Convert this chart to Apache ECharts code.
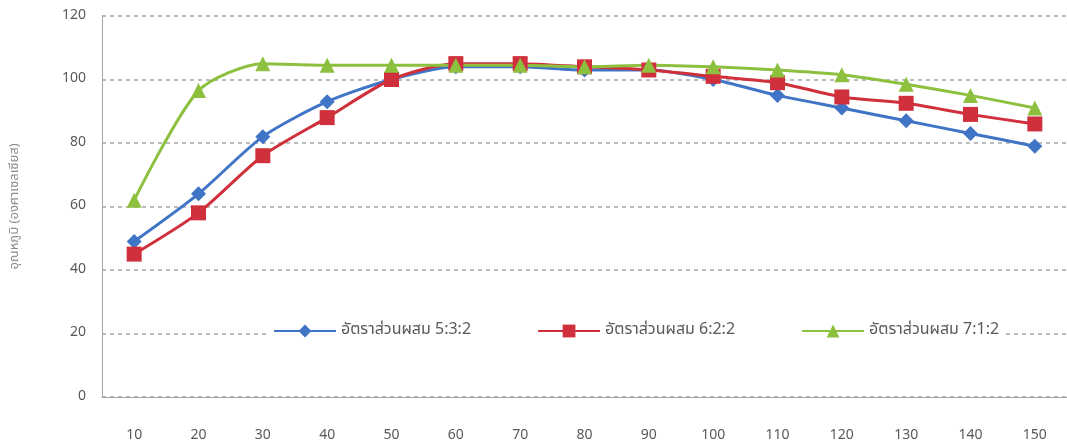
<!DOCTYPE html>
<html>
<head>
<meta charset="utf-8">
<script src="https://cdn.jsdelivr.net/npm/echarts@6/dist/echarts.min.js"></script>
<style>
  html, body { margin: 0; padding: 0; background: #ffffff; }
  #chart { width: 1067px; height: 448px; }
</style>
</head>
<body>
<div id="chart"></div>
<script>
// Mixing-ratio temperature curves
const categories = ['10','20','30','40','50','60','70','80','90','100','110','120','130','140','150'];
const ratio532 = [49, 64, 82, 93, 100, 104, 104, 103, 103, 100, 95, 91, 87, 83, 79];
const ratio622 = [45, 58, 76, 88, 100, 105, 105, 104, 103, 101, 99, 94.5, 92.5, 89, 86];
const ratio712 = [62, 96.5, 105, 104.5, 104.5, 104.5, 104.5, 104, 104.5, 104, 103, 101.5, 98.5, 95, 91];
const seriesNames = ['อัตราส่วนผสม 5:3:2', 'อัตราส่วนผสม 6:2:2', 'อัตราส่วนผสม 7:1:2'];
const yTitle = 'อุณหภูมิ (องศาเซลเซียส)';

const FONT = '"Noto Sans Thai", Tahoma, "DejaVu Sans", sans-serif';
const colors = ['#3F74C6', '#D0303C', '#8DC03E'];

const chart = echarts.init(document.getElementById('chart'), null, { renderer: 'canvas' });

function line(name, data, symbol, size, color) {
  return {
    name, type: 'line', data,
    smooth: 0.25,
    symbol, symbolSize: size,
    lineStyle: { width: 3, color },
    itemStyle: { color },
    emphasis: { disabled: true }
  };
}

chart.setOption({
  animation: false,
  textStyle: { fontFamily: FONT },
  grid: { left: 102, top: 16, right: -8, bottom: 51, containLabel: false },
  legend: {
    data: seriesNames,
    left: 268, top: 318,
    itemGap: 66,
    itemWidth: 62, itemHeight: 16,
    textStyle: { color: '#595959', fontSize: 16, fontFamily: FONT },
    backgroundColor: '#ffffff'
  },
  xAxis: {
    type: 'category',
    data: categories,
    boundaryGap: true,
    axisLine: { lineStyle: { color: '#A6A6A6', width: 1 } },
    axisTick: { show: false },
    axisLabel: { color: '#595959', fontSize: 14, margin: 32 }
  },
  yAxis: {
    type: 'value',
    min: 0, max: 120, interval: 20,
    name: yTitle,
    nameLocation: 'middle',
    nameGap: 80,
    nameTextStyle: { color: '#8C8C8C', fontSize: 13 },
    axisLine: { show: true, lineStyle: { color: '#A6A6A6', width: 1 } },
    axisTick: { show: false },
    axisLabel: { color: '#595959', fontSize: 14, margin: 16 },
    splitLine: { lineStyle: { color: '#A6A6A6', type: [4, 4], width: 1.5 } }
  },
  series: [
    line(seriesNames[0], ratio532, 'diamond', 15, colors[0]),
    line(seriesNames[1], ratio622, 'rect', 15, colors[1]),
    line(seriesNames[2], ratio712, 'triangle', 15, colors[2])
  ]
});
</script>
</body>
</html>
